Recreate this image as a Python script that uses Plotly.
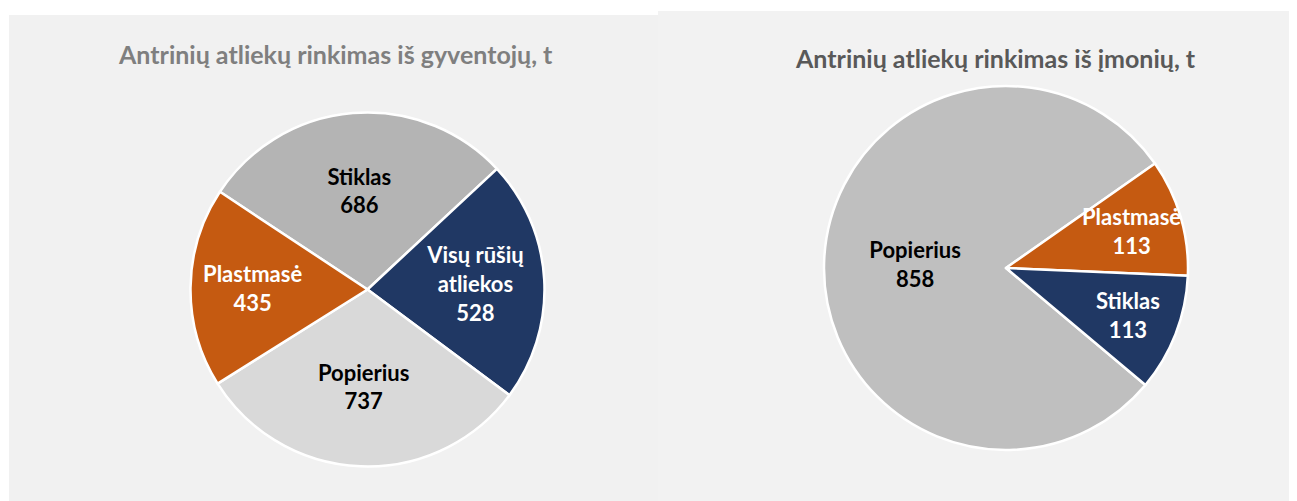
import math
import plotly.graph_objects as go

# Left chart: collection from residents, t
left_title = "Antrinių atliekų rinkimas iš gyventojų, t"
left_labels = ["Stiklas", "Visų rūšių atliekos", "Popierius", "Plastmasė"]
left_values = [686, 528, 737, 435]
left_colors = ["#b4b4b4", "#203864", "#d9d9d9", "#c55a11"]
left_textcolors = ["#000000", "#ffffff", "#000000", "#ffffff"]

# Right chart: collection from companies, t
right_title = "Antrinių atliekų rinkimas iš įmonių, t"
right_labels = ["Popierius", "Plastmasė", "Stiklas"]
right_values = [858, 113, 113]
right_colors = ["#bfbfbf", "#c55a11", "#203864"]
right_textcolors = ["#000000", "#ffffff", "#ffffff"]

OFF = 8  # page body margin
W, H = 1297 - OFF, 501 - OFF
FONT = "Lato"
LBL = 22

LEFT_C = (367.5, 289.5, 177)
RIGHT_C = (1006, 268, 182)
LEFT_ROT = -56.5
RIGHT_ROT = 130


def wrap(label):
    return label.replace("Visų rūšių ", "Visų rūšių<br>")


def px(x):
    return (x - OFF) / W


def py(y):
    return 1 - (y - OFF) / H


def dom(cx, cy, r):
    return dict(x=[px(cx - r), px(cx + r)], y=[py(cy + r), py(cy - r)])


fig = go.Figure()
fig.add_trace(go.Pie(
    labels=left_labels, values=left_values, text=[wrap(l) for l in left_labels],
    texttemplate="%{text}<br>%{value}", textposition="inside",
    insidetextorientation="horizontal",
    insidetextfont=dict(family=FONT, size=LBL, color=left_textcolors, weight="bold"),
    marker=dict(colors=left_colors, line=dict(color="#ffffff", width=2.5)),
    sort=False, direction="clockwise", rotation=LEFT_ROT, showlegend=False,
    hoverinfo="label+value", domain=dom(*LEFT_C),
))

# small slices in the right pie get their labels as annotations (Excel lets them overflow)
total_r = sum(right_values)
big = [v / total_r > 0.25 for v in right_values]
fig.add_trace(go.Pie(
    labels=right_labels, values=right_values, text=right_labels,
    texttemplate=["%{text}<br>%{value}" if b else "" for b in big], textposition="inside",
    insidetextorientation="horizontal",
    insidetextfont=dict(family=FONT, size=LBL, color=right_textcolors, weight="bold"),
    marker=dict(colors=right_colors, line=dict(color="#ffffff", width=2.5)),
    sort=False, direction="clockwise", rotation=RIGHT_ROT, showlegend=False,
    hoverinfo="label+value", domain=dom(*RIGHT_C),
))

annotations = []
cx, cy, r = RIGHT_C
acc = 0.0
for lab, val, col, b in zip(right_labels, right_values, right_textcolors, big):
    mid = RIGHT_ROT + (acc + val / 2) / total_r * 360
    acc += val
    if b:
        continue
    a = math.radians(mid)
    x = cx + 0.72 * r * math.sin(a)
    y = cy - 0.72 * r * math.cos(a)
    annotations.append(dict(
        text=f"<b>{lab}<br>{val}</b>", x=px(x), y=py(y), xref="paper", yref="paper",
        showarrow=False, xanchor="center", yanchor="middle",
        font=dict(family=FONT, size=LBL, color=col)))

shapes = [
    dict(type="rect", xref="paper", yref="paper", x0=px(9), x1=px(659), y0=0, y1=py(15),
         fillcolor="#f1f1f1", line=dict(width=0), layer="below"),
    dict(type="rect", xref="paper", yref="paper", x0=px(658), x1=px(1292), y0=0, y1=py(11),
         fillcolor="#f2f2f2", line=dict(width=0), layer="below"),
]
annotations += [
    dict(text=f"<b>{left_title}</b>", x=px(335), y=py(54), xref="paper", yref="paper",
         showarrow=False, xanchor="center", yanchor="middle",
         font=dict(family=FONT, size=25, color="#7f7f7f")),
    dict(text=f"<b>{right_title}</b>", x=px(995), y=py(58), xref="paper", yref="paper",
         showarrow=False, xanchor="center", yanchor="middle",
         font=dict(family=FONT, size=25, color="#595959")),
]

fig.update_layout(
    width=W, height=H, margin=dict(l=0, r=0, t=0, b=0),
    paper_bgcolor="#ffffff", plot_bgcolor="#ffffff",
    shapes=shapes, annotations=annotations,
)
fig.write_html("out.html")
